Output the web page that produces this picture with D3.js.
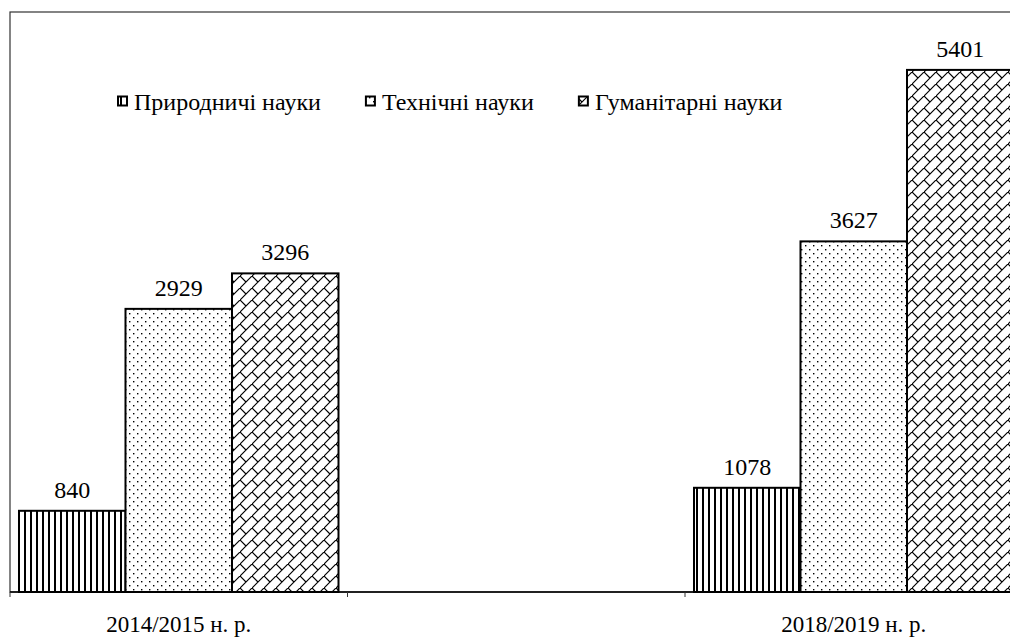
<!DOCTYPE html>
<html>
<head>
<meta charset="utf-8">
<script src="https://cdn.jsdelivr.net/npm/d3@7"></script>
<style>
  body { margin: 0; background: #fff; }
  svg { display: block; }
</style>
</head>
<body>
<script>
// data
var categories = ["2014/2015 н. р.", "", "2018/2019 н. р."];
var seriesNames = ["Природничі науки", "Технічні науки", "Гуманітарні науки"];
var natural = [840, null, 1078];
var technical = [2929, null, 3627];
var humanities = [3296, null, 5401];
var yMax = 6000;

var w = 1010, h = 637;
var plotLeft = 10, plotTop = 12, plotBottom = 592;
var plotRight = 1022.5; // the plot runs past the window edge, as in the picture
var serif = "'Liberation Serif', 'Times New Roman', 'DejaVu Serif', serif";

var svg = d3.select("body").append("svg")
  .attr("width", w)
  .attr("height", h)
  .style("font-family", serif);

// fill patterns
var defs = svg.append("defs");

var pStripe = defs.append("pattern")
  .attr("id", "stripes")
  .attr("patternUnits", "userSpaceOnUse")
  .attr("width", 6).attr("height", 6);
pStripe.append("rect").attr("width", 6).attr("height", 6).attr("fill", "#fff");
pStripe.append("rect").attr("x", 0).attr("width", 2).attr("height", 6).attr("fill", "#000");

var pDots = defs.append("pattern")
  .attr("id", "dots")
  .attr("patternUnits", "userSpaceOnUse")
  .attr("width", 8).attr("height", 8);
pDots.append("rect").attr("width", 8).attr("height", 8).attr("fill", "#fff");
pDots.append("rect").attr("x", 1).attr("y", 1).attr("width", 1.4).attr("height", 1.4).attr("fill", "#000");
pDots.append("rect").attr("x", 5).attr("y", 5).attr("width", 1.4).attr("height", 1.4).attr("fill", "#000");

// diagonal brick
var pBrick = defs.append("pattern")
  .attr("id", "brick")
  .attr("patternUnits", "userSpaceOnUse")
  .attr("width", 12).attr("height", 12);
pBrick.append("rect").attr("width", 12).attr("height", 12).attr("fill", "#fff");
pBrick.append("path")
  .attr("d", "M-1,13 L13,-1 M0,0 L6,6")
  .attr("stroke", "#000").attr("stroke-width", 1.2).attr("fill", "none");

var fills = ["url(#stripes)", "url(#dots)", "url(#brick)"];

// scales
var x0 = d3.scaleBand()
  .domain(d3.range(categories.length))
  .range([plotLeft, plotRight])
  .paddingInner(0).paddingOuter(0);

var x1 = d3.scaleBand()
  .domain(d3.range(seriesNames.length))
  .range([0, x0.bandwidth()])
  .paddingInner(0).paddingOuter(0.0845);

var y = d3.scaleLinear()
  .domain([0, yMax])
  .range([plotBottom, plotTop]);

// plot frame
svg.append("rect")
  .attr("x", plotLeft).attr("y", plotTop)
  .attr("width", plotRight - plotLeft).attr("height", plotBottom - plotTop)
  .attr("fill", "none").attr("stroke", "#333").attr("stroke-width", 1.2);

// bars
var table = [natural, technical, humanities];
var rows = [];
categories.forEach(function(c, i) {
  table.forEach(function(s, j) {
    if (s[i] != null) rows.push({ cat: i, ser: j, value: s[i] });
  });
});

svg.selectAll("rect.bar")
  .data(rows)
  .enter()
  .append("rect")
  .attr("class", "bar")
  .attr("x", function(d) { return x0(d.cat) + x1(d.ser); })
  .attr("y", function(d) { return y(d.value); })
  .attr("width", x1.bandwidth())
  .attr("height", function(d) { return y(0) - y(d.value); })
  .attr("fill", function(d) { return fills[d.ser]; })
  .attr("stroke", "#000")
  .attr("stroke-width", 2);

svg.selectAll("text.val")
  .data(rows)
  .enter()
  .append("text")
  .attr("class", "val")
  .attr("x", function(d) { return x0(d.cat) + x1(d.ser) + x1.bandwidth() / 2; })
  .attr("y", function(d) { return y(d.value) - 13; })
  .attr("text-anchor", "middle")
  .attr("font-size", "24px")
  .text(function(d) { return d.value; });

// x axis
var xAxis = d3.axisBottom(x0)
  .tickSize(5)
  .tickFormat(function() { return ""; });
var gx = svg.append("g")
  .attr("transform", "translate(0," + plotBottom + ")")
  .call(xAxis);
gx.select(".domain").attr("stroke", "#000").attr("stroke-width", 1.5)
  .attr("d", "M" + plotLeft + ",0H" + plotRight);
// ticks sit on band boundaries, not centres
gx.selectAll(".tick").remove();
var bounds = d3.range(categories.length + 1).map(function(i) {
  return plotLeft + i * x0.step();
});
gx.selectAll("line.bt")
  .data(bounds)
  .enter()
  .append("line")
  .attr("class", "bt")
  .attr("x1", function(d) { return d; }).attr("x2", function(d) { return d; })
  .attr("y1", 0).attr("y2", 5)
  .attr("stroke", "#333").attr("stroke-width", 1);

svg.selectAll("text.cat")
  .data(categories)
  .enter()
  .append("text")
  .attr("class", "cat")
  .attr("x", function(d, i) { return x0(i) + x0.bandwidth() / 2; })
  .attr("y", 632)
  .attr("text-anchor", "middle")
  .attr("font-size", "23px")
  .text(function(d) { return d; });

// legend
var legend = svg.append("g");
var lx = 117;
seriesNames.forEach(function(name, i) {
  legend.append("rect")
    .attr("x", lx + 1).attr("y", 96.5)
    .attr("width", 9).attr("height", 9)
    .attr("fill", fills[i])
    .attr("stroke", "#000").attr("stroke-width", 2);
  var t = legend.append("text")
    .attr("x", lx + 17).attr("y", 110)
    .attr("font-size", "24px")
    .text(name);
  lx = lx + 17 + t.node().getComputedTextLength() + 44;
});
</script>
</body>
</html>
